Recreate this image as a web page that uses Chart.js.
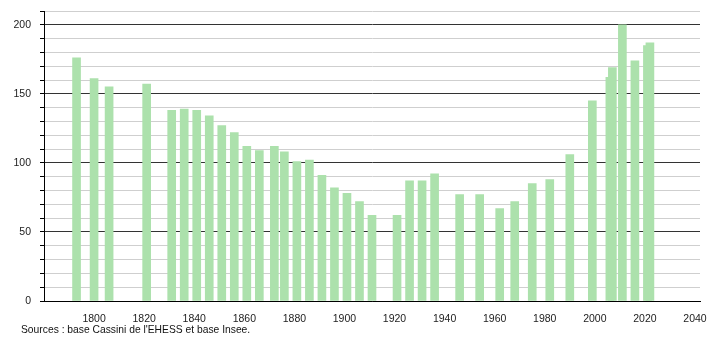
<!DOCTYPE html>
<html><head><meta charset="utf-8">
<script src="https://cdn.jsdelivr.net/npm/chart.js@4"></script>
<style>
html,body{margin:0;padding:0;background:#fff;}
#wrap{position:relative;width:710px;height:340px;}
canvas{position:absolute;left:0;top:0;}
#src{position:absolute;left:21px;top:324px;font-size:10.3px;font-family:"Liberation Sans",Arial,sans-serif;color:#111;white-space:nowrap;}
</style>
</head><body>
<div id="wrap"><canvas id="c" width="710" height="340"></canvas><div id="src">Sources : base Cassini de l'EHESS et base Insee.</div></div>
<script>
const years = [1793,1800,1806,1821,1831,1836,1841,1846,1851,1856,1861,1866,1872,1876,1881,1886,1891,1896,1901,1906,1911,1921,1926,1931,1936,1946,1954,1962,1968,1975,1982,1990,1999,2006,2007,2011,2016,2021,2022];
const population = [176,161,155,157,138,139,138,134,127,122,112,109,112,108,101,102,91,82,78,72,62,62,87,87,92,77,77,67,72,85,88,106,145,162,169,200,174,185,187];
const xTickLabels = [1800,1820,1840,1860,1880,1900,1920,1940,1960,1980,2000,2020,2040];
const yMajorStep = 50;

Chart.defaults.font.family = '"Liberation Sans", Arial, sans-serif';
Chart.defaults.font.size = 10.5;
Chart.defaults.color = '#222';

new Chart(document.getElementById('c'), {
  type: 'bar',
  data: {
    datasets: [{
      data: years.map((y, i) => ({x: y, y: population[i]})),
      backgroundColor: 'rgb(172,225,172)',
      borderWidth: 0,
      barThickness: 8
    }]
  },
  options: {
    responsive: false,
    animation: false,
    layout: {padding: {left: 0, right: 10, top: 11, bottom: 0}},
    plugins: {legend: {display: false}, tooltip: {enabled: false}},
    scales: {
      x: {
        type: 'linear', min: 1780, max: 2042, offset: false,
        afterBuildTicks: s => { s.ticks = xTickLabels.map(v => ({value: v})); },
        afterFit: s => { s.height = 39; s.paddingLeft = 0; s.paddingRight = 0; },
        grid: {display: false},
        border: {color: '#000', width: 1},
        ticks: {padding: 4, maxRotation: 0, autoSkip: false, callback: v => String(v)}
      },
      y: {
        min: 0, max: 210,
        afterFit: s => { s.width = 44; s.paddingTop = 0; s.paddingBottom = 0; },
        ticks: {stepSize: 10, padding: 9, autoSkip: false, callback: v => (v % yMajorStep === 0 ? String(v) : '')},
        grid: {
          color: c => (c.tick && c.tick.value % yMajorStep === 0 ? '#333' : '#cfcfcf'),
          tickColor: '#000',
          tickLength: 4
        },
        border: {color: '#000', width: 1}
      }
    }
  }
});
</script>
</body></html>
